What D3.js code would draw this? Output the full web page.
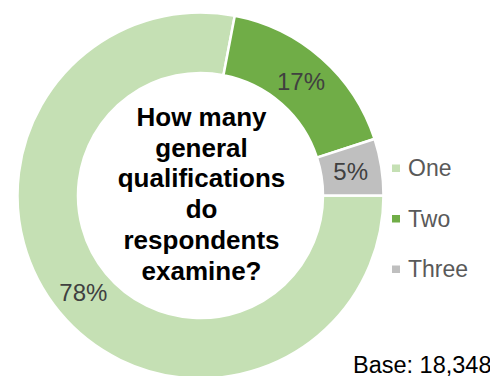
<!DOCTYPE html>
<html>
<head>
<meta charset="utf-8">
<script src="https://cdn.jsdelivr.net/npm/d3@7/dist/d3.min.js"></script>
<style>
  html, body { margin: 0; padding: 0; background: #fff; }
  svg { display: block; }
</style>
</head>
<body>
<script>
// Share of respondents by number of general qualifications examined
const categories = ["One", "Two", "Three"];
const values = [78, 17, 5];
const colors = ["#C5E0B4", "#70AD47", "#BFBFBF"];
const titleLines = ["How many", "general", "qualifications", "do", "respondents", "examine?"];
const baseNote = "Base: 18,348";

const W = 490, H = 376;
const cx = 200.5, cy = 195.5;
const outerR = 183, innerR = 122.5;

const svg = d3.select("body").append("svg")
  .attr("width", W).attr("height", H);

// Ring starts at 3 o'clock and runs clockwise
const pie = d3.pie()
  .sort(null)
  .value(d => d.value)
  .startAngle(Math.PI / 2)
  .endAngle(Math.PI / 2 + 2 * Math.PI);

const data = categories.map((c, i) => ({ name: c, value: values[i], color: colors[i] }));
const arcs = pie(data);

const arc = d3.arc().innerRadius(innerR).outerRadius(outerR);
const labelArc = d3.arc().innerRadius(152).outerRadius(152);

const g = svg.append("g").attr("transform", `translate(${cx},${cy})`);

g.selectAll("path.slice")
  .data(arcs)
  .join("path")
  .attr("class", "slice")
  .attr("d", arc)
  .attr("fill", d => d.data.color)
  .attr("stroke", "#fff")
  .attr("stroke-width", 2.5);

// Percentage labels at the middle of each slice, on the ring
g.selectAll("text.pct")
  .data(arcs)
  .join("text")
  .attr("class", "pct")
  .attr("transform", d => `translate(${labelArc.centroid(d)})`)
  .attr("text-anchor", "middle")
  .attr("dominant-baseline", "central")
  .attr("font-family", "'Liberation Sans', Arial, sans-serif")
  .attr("font-size", 24)
  .attr("fill", "#404040")
  .text(d => d.data.value + "%");

// Centre title
const title = g.append("text")
  .attr("text-anchor", "middle")
  .attr("font-family", "'Liberation Sans', Arial, sans-serif")
  .attr("font-weight", "bold")
  .attr("font-size", 26)
  .attr("fill", "#000");
titleLines.forEach((line, i) => {
  title.append("tspan")
    .attr("x", 1)
    .attr("y", -69.5 + i * 30.7)
    .text(line);
});

// Legend
const legend = svg.append("g").attr("transform", "translate(392,168)");
const rows = legend.selectAll("g.row")
  .data(data)
  .join("g")
  .attr("class", "row")
  .attr("transform", (d, i) => `translate(0,${i * 50.5})`);
rows.append("rect")
  .attr("x", 0).attr("y", -3.5)
  .attr("width", 8).attr("height", 7.5)
  .attr("fill", d => d.color);
rows.append("text")
  .attr("x", 16)
  .attr("y", 0)
  .attr("dominant-baseline", "central")
  .attr("font-family", "'Liberation Sans', Arial, sans-serif")
  .attr("font-size", 23)
  .attr("fill", "#595959")
  .text(d => d.name);

// Sample size note
svg.append("text")
  .attr("x", 353)
  .attr("y", 373)
  .attr("font-family", "'Liberation Sans', Arial, sans-serif")
  .attr("font-size", 23.5)
  .attr("fill", "#000")
  .text(baseNote);
</script>
</body>
</html>
